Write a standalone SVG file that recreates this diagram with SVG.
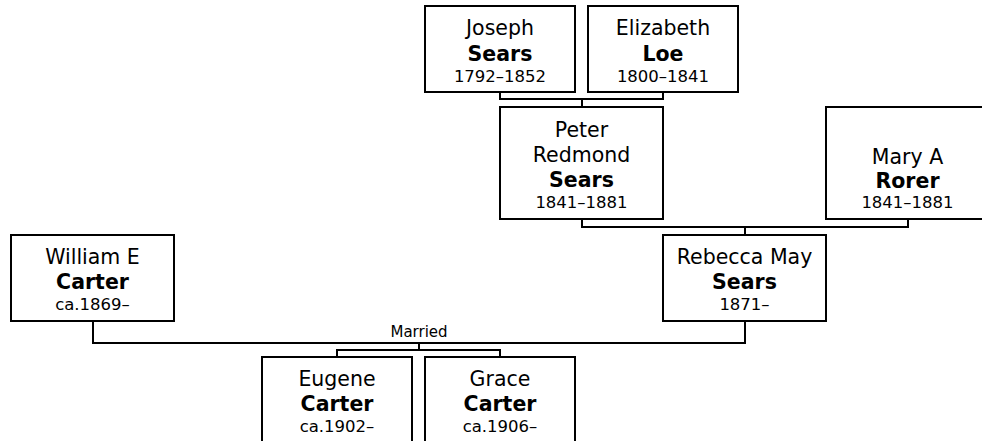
<svg xmlns="http://www.w3.org/2000/svg" width="982" height="441" viewBox="0 0 982 441">
<style>
.box{fill:#fff;stroke:#000;stroke-width:2}
.ln{fill:none;stroke:#000;stroke-width:2}
text{font-family:"DejaVu Sans",Verdana,sans-serif;fill:#000;text-anchor:middle}
.n{font-size:20.5px}
.s{font-size:20.5px;font-weight:bold}
.d{font-size:16.5px}
.m{font-size:15px}
</style>
<rect width="982" height="441" fill="#fff"/>
<g id="connectors">
<path class="ln" d="M500 92V99H663V92M582 99V107"/>
<path class="ln" d="M582 219V227H908V219M745 227V235"/>
<path class="ln" d="M93 321V343H745V321M419 343V350M337 357V350H500V357"/>
<text class="m" x="419" y="337">Married</text>
</g>
<g id="joseph">
<rect class="box" x="425" y="6" width="150" height="86"/>
<text class="n" x="500" y="35">Joseph</text>
<text class="s" x="500" y="61">Sears</text>
<text class="d" x="500" y="82">1792–1852</text>
</g>
<g id="elizabeth">
<rect class="box" x="588" y="6" width="150" height="86"/>
<text class="n" x="663" y="35">Elizabeth</text>
<text class="s" x="663" y="61">Loe</text>
<text class="d" x="663" y="82">1800–1841</text>
</g>
<g id="peter">
<rect class="box" x="500" y="107" width="163" height="112"/>
<text class="n" x="581.5" y="137">Peter</text>
<text class="n" x="581.5" y="162">Redmond</text>
<text class="s" x="581.5" y="187">Sears</text>
<text class="d" x="581.5" y="208">1841–1881</text>
</g>
<g id="mary">
<rect class="box" x="826" y="107" width="163" height="112"/>
<text class="n" x="907.5" y="164">Mary A</text>
<text class="s" x="907.5" y="188">Rorer</text>
<text class="d" x="907.5" y="208">1841–1881</text>
</g>
<g id="william">
<rect class="box" x="11" y="235" width="163" height="86"/>
<text class="n" x="92.5" y="264">William E</text>
<text class="s" x="92.5" y="289">Carter</text>
<text class="d" x="92.5" y="310">ca.1869–</text>
</g>
<g id="rebecca">
<rect class="box" x="663" y="235" width="163" height="86"/>
<text class="n" x="744.5" y="264">Rebecca May</text>
<text class="s" x="744.5" y="289">Sears</text>
<text class="d" x="744.5" y="310">1871–</text>
</g>
<g id="eugene">
<rect class="box" x="262" y="357" width="150" height="86"/>
<text class="n" x="337" y="386">Eugene</text>
<text class="s" x="337" y="411">Carter</text>
<text class="d" x="337" y="432">ca.1902–</text>
</g>
<g id="grace">
<rect class="box" x="425" y="357" width="150" height="86"/>
<text class="n" x="500" y="386">Grace</text>
<text class="s" x="500" y="411">Carter</text>
<text class="d" x="500" y="432">ca.1906–</text>
</g>
</svg>
